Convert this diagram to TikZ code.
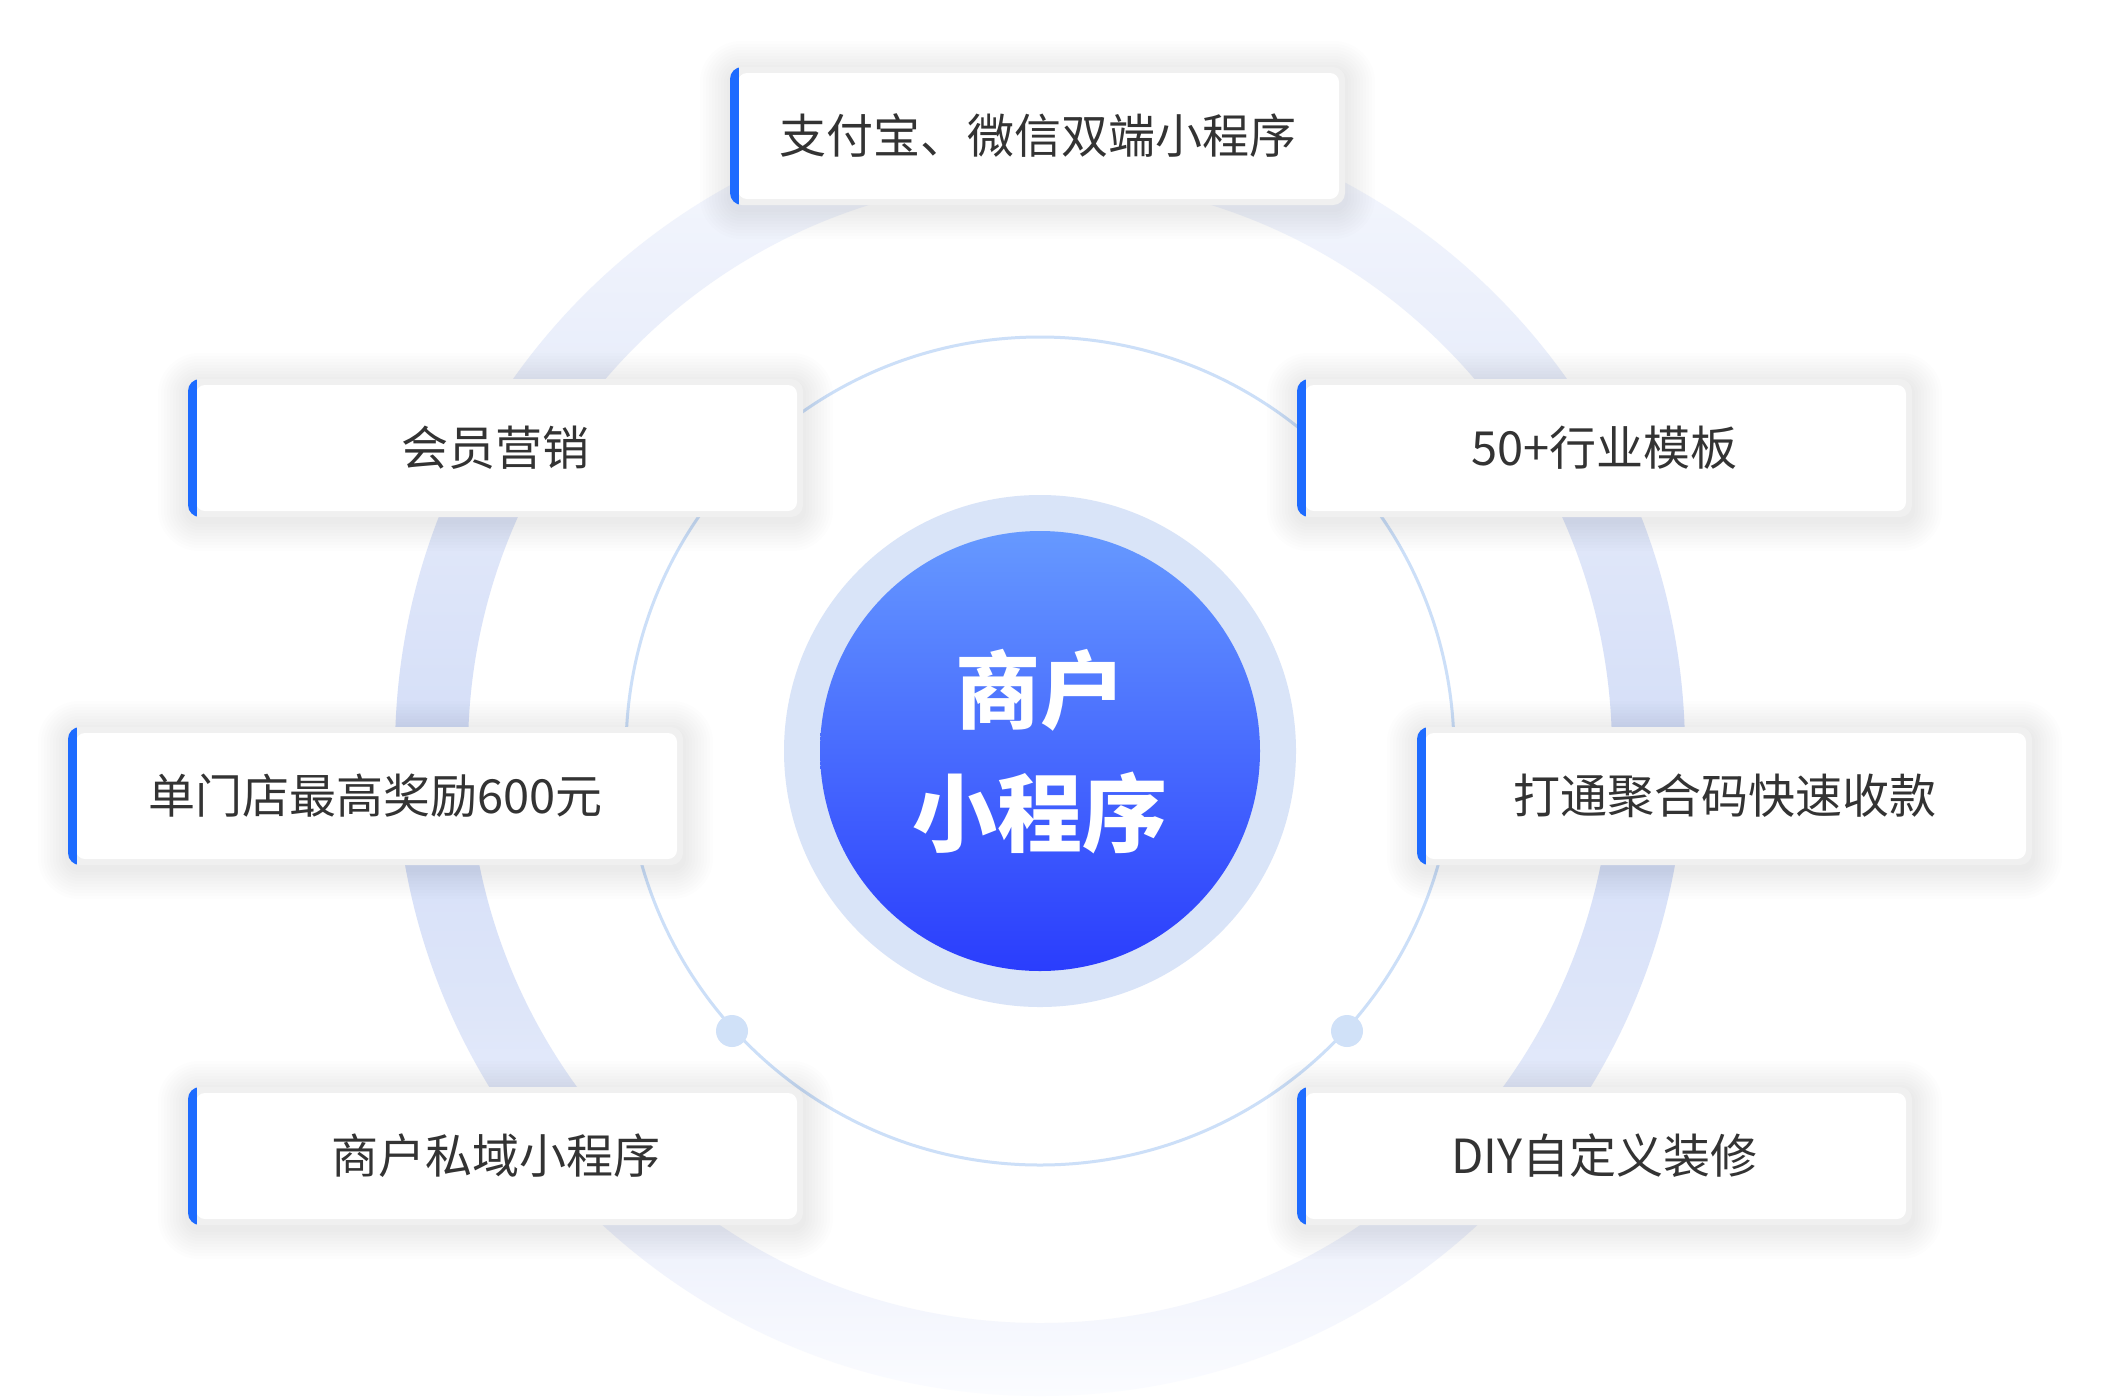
\documentclass[tikz,border=0pt]{standalone}
\usepackage{fontspec}
\setmainfont{Noto Sans CJK SC}
\definecolor{boxgray}{HTML}{F0F0F0}
\definecolor{txt}{HTML}{333333}
\definecolor{barblue}{HTML}{1D6BFF}
\definecolor{thinc}{HTML}{CCDFF8}
\definecolor{dotc}{HTML}{D0E1F8}
\definecolor{haloc}{HTML}{D9E4F8}
\definecolor{ctop}{HTML}{6699FF}
\definecolor{cbot}{HTML}{2A3DFD}
\definecolor{r0}{HTML}{FBFCFF}
\definecolor{r1}{HTML}{EFF2FC}
\definecolor{r2}{HTML}{DDE5F9}
\definecolor{r3}{HTML}{D4DEF8}
\definecolor{r4}{HTML}{E8EDFA}
\definecolor{r5}{HTML}{F6F8FE}
\pgfdeclareverticalshading{ringshade}{100bp}{color(0bp)=(r0); color(25bp)=(r0); color(30.65bp)=(r1); color(40.35bp)=(r2); color(50bp)=(r3); color(64.4bp)=(r4); color(75bp)=(r5); color(100bp)=(r5)}
\pgfdeclarelayer{bglayer}
\pgfdeclarelayer{ringlayer}
\pgfdeclarelayer{shadowlayer}
\pgfsetlayers{bglayer,ringlayer,shadowlayer,main}
\begin{document}
\begin{tikzpicture}[x=1pt,y=-1pt,
  infobox/.style={minimum width=615pt,minimum height=138pt,inner sep=0pt,
    rounded corners=12pt,fill=boxgray,text=txt,
    font=\fontsize{47}{56}\selectfont,
    path picture={
      \fill[white,rounded corners=9pt]
        ([xshift=8pt,yshift=-6pt]path picture bounding box.north west) rectangle
        ([xshift=-6pt,yshift=6pt]path picture bounding box.south east);
      \fill[barblue,sharp corners]
        ([xshift=-1pt,yshift=1pt]path picture bounding box.north west) rectangle
        ([xshift=9pt,yshift=-1pt]path picture bounding box.south west);
    }}]
\begin{pgfonlayer}{bglayer}
  \fill[white] (0,0) rectangle (2103,1398);
\end{pgfonlayer}
\useasboundingbox (0,0) rectangle (2103,1398);

% boxes
\node[infobox] (b1) at (1037.5,136) {支付宝、微信双端小程序};
\node[infobox] (b2) at (495.5,448) {会员营销};
\node[infobox] (b3) at (1604.5,448) {50+行业模板};
\node[infobox] (b4) at (375.5,796) {单门店最高奖励600元};
\node[infobox] (b5) at (1724.5,796) {打通聚合码快速收款};
\node[infobox] (b6) at (495.5,1156) {商户私域小程序};
\node[infobox] (b7) at (1604.5,1156) {DIY自定义装修};

% center
\node[circle,fill=haloc,minimum size=512pt,inner sep=0pt] (halo) at (1040,751) {};
\node[circle,top color=ctop,bottom color=cbot,minimum size=440pt,inner sep=0pt] (core) at (1040,751) {};
\node[font=\fontsize{85}{123}\selectfont\bfseries,text=white,align=center] (ct) at (1040,752) {商户\\小程序};

\begin{pgfonlayer}{ringlayer}
  \shade[shading=ringshade,even odd rule] (1040,751) circle[radius=645] (1040,751) circle[radius=572];
  \draw[thinc,line width=3pt] (1040,751) circle[radius=414];
  \node[circle,fill=dotc,minimum size=32pt,inner sep=0pt] (d1) at (732,1031) {};
  \node[circle,fill=dotc,minimum size=32pt,inner sep=0pt] (d2) at (1347,1031) {};
\end{pgfonlayer}

\begin{pgfonlayer}{shadowlayer}
  \foreach \n in {b1,b2,b3,b4,b5,b6,b7}{
    \foreach \i in {1,...,10}{
      \pgfmathsetmacro\dd{3*\i}
      \pgfmathsetmacro\rr{12+3*\i}
      \fill[black,opacity=0.006,rounded corners=\rr pt]
        ([xshift=-\dd pt,yshift=\dd pt-4pt]\n.north west) rectangle
        ([xshift=\dd pt,yshift=-\dd pt-4pt]\n.south east);
    }
  }
\end{pgfonlayer}
\end{tikzpicture}
\end{document}
